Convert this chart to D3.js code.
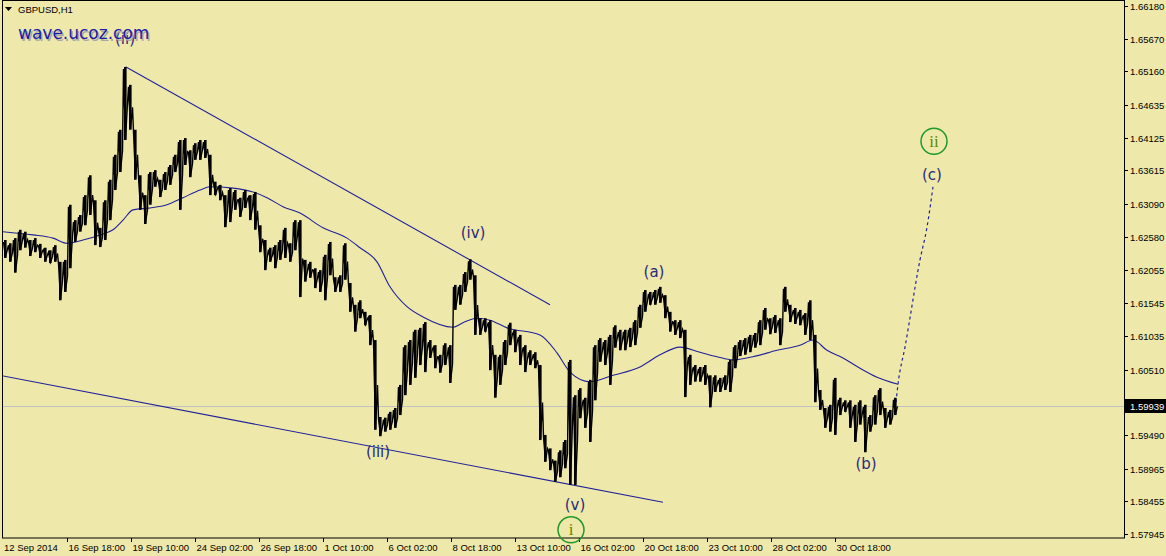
<!DOCTYPE html>
<html><head><meta charset="utf-8">
<script src="https://cdn.jsdelivr.net/npm/d3@7"></script>
<style>body{margin:0;background:#EEE8AA;} svg{display:block}</style>
</head><body><svg id="c" width="1166" height="556"></svg>
<script>
// ---------------- data ----------------
const symbol = "GBPUSD,H1";
const watermark = "wave.ucoz.com";
const barStep = 5; // each high/low pair covers 5 hourly bars
const highs = [1.6253,1.6248,1.6256,1.6269,1.6266,1.6253,1.6256,1.6247,1.6241,1.6237,
1.6245,1.6219,1.6222,1.6308,1.6284,1.6292,1.6323,1.6354,1.6315,1.6272,
1.6315,1.6347,1.6386,1.6425,1.6523,1.6495,1.6425,1.6354,1.6323,1.6359,
1.6362,1.6347,1.6359,1.6370,1.6386,1.6409,1.6412,1.6393,1.6404,1.6409,
1.6409,1.6386,1.6344,1.6339,1.6323,1.6334,1.6331,1.6319,1.6331,1.6323,
1.6328,1.6276,1.6253,1.6241,1.6245,1.6253,1.6272,1.6248,1.6284,1.6284,
1.6222,1.6219,1.6209,1.6206,1.6230,1.6250,1.6195,1.6198,1.6248,1.6186,
1.6152,1.6159,1.6141,1.6136,1.6097,1.5977,1.5976,1.5985,1.5991,1.6027,
1.6089,1.6097,1.6113,1.6116,1.6125,1.6097,1.6089,1.6074,1.6092,1.6089,
1.6183,1.6183,1.6203,1.6223,1.6198,1.6131,1.6131,1.6128,1.6074,1.6074,
1.6097,1.6124,1.6113,1.6105,1.6089,1.6081,1.6078,1.6058,1.5949,1.5928,
1.5909,1.5925,1.5941,1.6066,1.6011,1.6022,1.6007,1.6035,1.6089,1.6100,
1.6097,1.6105,1.6120,1.6113,1.6113,1.6116,1.6128,1.6152,1.6175,1.6172,
1.6175,1.6180,1.6167,1.6141,1.6128,1.6128,1.6113,1.6074,1.6058,1.6055,
1.6058,1.6042,1.6042,1.6038,1.6042,1.6066,1.6089,1.6097,1.6100,1.6105,
1.6108,1.6128,1.6147,1.6131,1.6136,1.6131,1.6180,1.6152,1.6147,1.6144,
1.6139,1.6159,1.6105,1.6019,1.5991,1.5996,1.6038,1.6007,1.6003,1.6003,
1.5996,1.6003,1.5996,1.5980,1.6011,1.6022,1.5991,1.5988,1.6007];
const lows = [1.6225,1.6219,1.6202,1.6237,1.6241,1.6228,1.6234,1.6225,1.6219,1.6217,
1.6219,1.6159,1.6172,1.6209,1.6250,1.6266,1.6276,1.6292,1.6245,1.6242,
1.6253,1.6284,1.6331,1.6359,1.6409,1.6425,1.6347,1.6300,1.6278,1.6308,
1.6336,1.6320,1.6331,1.6339,1.6359,1.6300,1.6370,1.6351,1.6378,1.6378,
1.6381,1.6323,1.6323,1.6315,1.6273,1.6281,1.6300,1.6289,1.6303,1.6284,
1.6269,1.6234,1.6206,1.6219,1.6209,1.6222,1.6225,1.6219,1.6237,1.6164,
1.6188,1.6194,1.6178,1.6172,1.6159,1.6198,1.6172,1.6172,1.6191,1.6141,
1.6110,1.6131,1.6120,1.6089,1.5957,1.5947,1.5954,1.5957,1.5960,1.5980,
1.6011,1.6027,1.6038,1.6058,1.6047,1.6069,1.6053,1.6046,1.6058,1.6030,
1.6144,1.6152,1.6172,1.6191,1.6105,1.6105,1.6110,1.6050,1.6007,1.6027,
1.6058,1.6089,1.6078,1.6058,1.6047,1.6058,1.6053,1.5941,1.5907,1.5894,
1.5876,1.5883,1.5897,1.5871,1.5871,1.5975,1.5960,1.5938,1.6003,1.6063,
1.6058,1.6027,1.6085,1.6081,1.6081,1.6086,1.6089,1.6116,1.6141,1.6152,
1.6152,1.6155,1.6131,1.6110,1.6105,1.6100,1.6008,1.6027,1.6032,1.6032,
1.6027,1.5992,1.6016,1.6016,1.6019,1.6016,1.6053,1.6072,1.6074,1.6078,
1.6085,1.6089,1.6113,1.6106,1.6108,1.6089,1.6141,1.6125,1.6122,1.6120,
1.6105,1.6097,1.6000,1.5988,1.5960,1.5954,1.5949,1.5980,1.5985,1.5960,
1.5938,1.5965,1.5922,1.5954,1.5965,1.5980,1.5960,1.5965,1.5980];
const lastPrice = 1.59939;
const maBars = [0,30,50,64,80,97,110,120,130,147,164,180,197,207,230,250,264,280,297,320,344,357,374,387,404,420,450,460,474,487,504,537,554,567,587,610,637,657,677,697,714,730,750,774,797,810,824,840,857,874,895];
const maValues = [1.6266,1.6261,1.6256,1.6248,1.6253,1.6261,1.6269,1.6284,1.6300,1.6303,1.6308,1.6319,1.6331,1.6336,1.6334,1.6328,1.6319,1.6305,1.6295,1.6272,1.6256,1.6241,1.6219,1.6180,1.6149,1.6133,1.6117,1.6124,1.6131,1.6128,1.6116,1.6105,1.6077,1.6047,1.6032,1.6042,1.6055,1.6074,1.6086,1.6078,1.6071,1.6066,1.6071,1.6081,1.6089,1.6097,1.6081,1.6069,1.6053,1.6039,1.6028];
const yTicks = [1.66180,1.65670,1.65160,1.64635,1.64125,1.63615,1.63090,1.62580,1.62055,1.61545,1.61035,1.60510,1.60000,1.59490,1.58965,1.58455,1.57945];
const firstDateLabel = "12 Sep 2014";
const xTickBars = [64,128,192,256,320,384,448,512,576,640,704,768,832];
const xTickLabels = ["16 Sep 18:00","19 Sep 10:00","24 Sep 02:00","26 Sep 18:00","1 Oct 10:00","6 Oct 02:00","8 Oct 18:00","13 Oct 10:00","16 Oct 02:00","20 Oct 18:00","23 Oct 10:00","28 Oct 02:00","30 Oct 18:00"];
const upperLineBars = [123,547], upperLinePrices = [1.6523,1.6152];
const lowerLineBars = [-3,660], lowerLinePrices = [1.6042,1.5844];
const projBars = [893,895,902,917,924,930];
const projPrices = [1.6000,1.6028,1.6086,1.6222,1.6273,1.6336];
const waveLabels = ["(ii)","(iii)","(iv)","(v)","(a)","(b)","(c)"];
const waveBars = [122,375,470,572,651,863,929];
const wavePrices = [1.6568,1.5924,1.6266,1.5841,1.6205,1.5905,1.6356];
const circleLabels = ["i","ii"];
const circleBars = [568,931];
const circlePrices = [1.5801,1.6407];

// ---------------- drawing ----------------
const W = 1166, H = 556;
const plotL = 2, plotR = 1124, plotT = 1, plotB = 538;
const svg = d3.select("#c");
const x = d3.scaleLinear().domain([0, 1121]).range([3, 1124]);
const y = d3.scaleLinear().domain([1.57945, 1.66180]).range([534, 6]);
const navy = "#22229a";

svg.append("rect").attr("width", W).attr("height", H).attr("fill", "#EEE8AA");
svg.append("clipPath").attr("id","pc").append("rect")
  .attr("x", plotL).attr("y", plotT).attr("width", plotR-plotL).attr("height", plotB-plotT);
const g = svg.append("g").attr("clip-path","url(#pc)");

// current price line
g.append("line").attr("x1", plotL).attr("x2", plotR)
  .attr("y1", Math.round(y(lastPrice))+0.5).attr("y2", Math.round(y(lastPrice))+0.5)
  .attr("stroke", "#c0c0c0").attr("stroke-width", 1);

// trend lines
[[upperLineBars, upperLinePrices],[lowerLineBars, lowerLinePrices]].forEach(([b,p]) => {
  g.append("line").attr("x1", x(b[0])).attr("y1", y(p[0])).attr("x2", x(b[1])).attr("y2", y(p[1]))
    .attr("stroke", navy).attr("stroke-width", 1.1);
});

// moving average
const maLine = d3.line().x((d,i)=>x(maBars[i])).y(d=>y(d)).curve(d3.curveMonotoneX);
g.append("path").attr("d", maLine(maValues)).attr("fill","none").attr("stroke", navy).attr("stroke-width", 1.1);

// projection dotted
const projLine = d3.line().x((d,i)=>x(projBars[i])).y(d=>y(d)).curve(d3.curveMonotoneX);
g.append("path").attr("d", projLine(projPrices)).attr("fill","none").attr("stroke", navy)
  .attr("stroke-width", 1.2).attr("stroke-dasharray","3,3");

// price bars
const bars = highs.map((h,i)=>({b:i*barStep, h, l:lows[i]}));
g.append("g").selectAll("rect").data(bars).join("rect")
  .attr("x", d=>x(d.b)+1).attr("width", 2.6)
  .attr("y", d=>y(d.h)).attr("height", d=>Math.max(1, y(d.l)-y(d.h)))
  .attr("fill", "#000");
const zig = [];
bars.forEach(d=>{ zig.push([x(d.b)+0.5, y(d.h)+2]); zig.push([x(d.b)+2.5, y(d.l)-1]); zig.push([x(d.b)+4.5, (y(d.h)+y(d.l))/2]); });
g.append("path").attr("d", d3.line()(zig)).attr("fill","none").attr("stroke","#000").attr("stroke-width",1.4);

// border
svg.append("rect").attr("x", plotL+0.5).attr("y", plotT-0.5).attr("width", plotR-plotL).attr("height", plotB-plotT+0.5)
  .attr("fill","none").attr("stroke","#000").attr("stroke-width",1);

// y axis
const ya = svg.append("g");
yTicks.forEach(v=>{
  const yy = Math.round(y(v))+0.5;
  ya.append("line").attr("x1", plotR).attr("x2", plotR+4).attr("y1", yy).attr("y2", yy).attr("stroke","#000");
  ya.append("text").attr("x", plotR+6).attr("y", yy+3.5).text(d3.format(".5f")(v))
    .attr("font-family","Liberation Sans, Arial, sans-serif").attr("font-size","9.5px").attr("fill","#000");
});
// current price tag
const ly = Math.round(y(lastPrice));
svg.append("rect").attr("x", plotR+1).attr("y", ly-7).attr("width", W-plotR-1).attr("height", 14).attr("fill","#000");
svg.append("text").attr("x", plotR+6).attr("y", ly+3.5).text(d3.format(".5f")(lastPrice))
  .attr("font-family","Liberation Sans, Arial, sans-serif").attr("font-size","9.5px").attr("fill","#fff");

// x axis
const xa = svg.append("g");
xa.append("text").attr("x", 4).attr("y", 551).text(firstDateLabel)
  .attr("font-family","Liberation Sans, Arial, sans-serif").attr("font-size","9.5px").attr("fill","#000");
xTickBars.forEach((b,i)=>{
  const xx = Math.round(x(b))+0.5;
  xa.append("line").attr("x1", xx).attr("x2", xx).attr("y1", plotB).attr("y2", plotB+4).attr("stroke","#000");
  xa.append("text").attr("x", xx+1).attr("y", 551).text(xTickLabels[i])
    .attr("font-family","Liberation Sans, Arial, sans-serif").attr("font-size","9.5px").attr("fill","#000");
});

// header
svg.append("path").attr("d","M5,7 L12,7 L8.5,11 Z").attr("fill","#000");
svg.append("text").attr("x", 18).attr("y", 13).text(symbol)
  .attr("font-family","Liberation Sans, Arial, sans-serif").attr("font-size","9.5px").attr("fill","#000");

// wave labels
waveLabels.forEach((t,i)=>{
  svg.append("text").attr("x", x(waveBars[i])).attr("y", y(wavePrices[i])+6).text(t)
    .attr("text-anchor","middle").attr("font-family","DejaVu Sans, sans-serif").attr("font-size","15px").attr("fill","#2a2a7c");
});
circleLabels.forEach((t,i)=>{
  const cx = x(circleBars[i]), cy = y(circlePrices[i]);
  svg.append("circle").attr("cx", cx).attr("cy", cy).attr("r", 13).attr("fill","none").attr("stroke","#1f9a2a").attr("stroke-width",1.5);
  svg.append("text").attr("x", cx).attr("y", cy+5.5).text(t).attr("text-anchor","middle")
    .attr("font-family","Liberation Serif, serif").attr("font-size","17px").attr("fill","#5e8a00");
});

// watermark (drawn over the (ii) label as in the reference)
svg.append("text").attr("x", 19.5).attr("y", 40.5).text(watermark)
  .attr("font-family","DejaVu Sans, sans-serif").attr("font-size","17px").attr("fill","#a8a8a8");
svg.append("text").attr("x", 18).attr("y", 39).text(watermark)
  .attr("font-family","DejaVu Sans, sans-serif").attr("font-size","17px").attr("fill","#1c1caa");
</script></body></html>
